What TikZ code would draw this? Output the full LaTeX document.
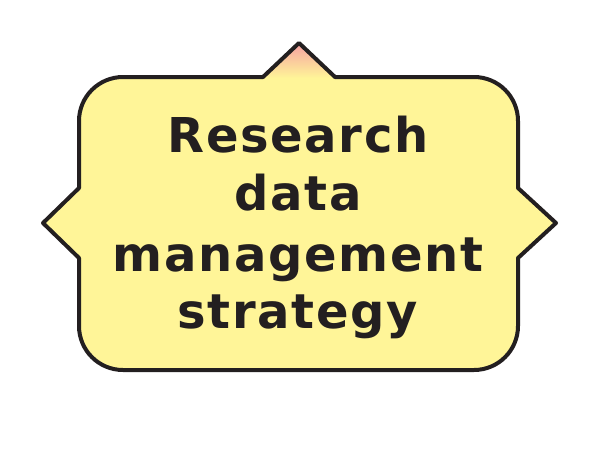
\documentclass[tikz,border=0pt]{standalone}
\usepackage{fontspec}
\newfontfamily\labelfont[LetterSpace=3.5]{DejaVu Sans}
\definecolor{boxfill}{RGB}{255,245,152}
\definecolor{tipfill}{RGB}{246,160,162}
\definecolor{ink}{RGB}{35,31,32}
\tikzset{
  outline/.style={draw=ink, line width=4pt, line join=round},
  txt/.style={anchor=base, inner sep=0pt, text=ink, font=\labelfont\bfseries\fontsize{48}{59}\selectfont}
}
\begin{document}
\begin{tikzpicture}[x=1pt,y=-1pt]
\useasboundingbox (0,0) rectangle (600,450);
\def\shapepath{(123,77) -- (263,77) -- (299,43) -- (335,77) -- (474,77)
  arc[start angle=90,end angle=0,radius=44pt] -- (518,188) -- (556,223) -- (518,258) -- (518,326)
  arc[start angle=0,end angle=-90,radius=44pt] -- (123,370)
  arc[start angle=-90,end angle=-180,radius=44pt] -- (79,258) -- (43,223) -- (79,188) -- (79,121)
  arc[start angle=180,end angle=90,radius=44pt] -- cycle}
\fill[boxfill] \shapepath;
\shade[top color=tipfill, bottom color=boxfill] (263,78) -- (299,43) -- (335,78) -- cycle;
\draw[outline] \shapepath;
\node[txt] (l1) at (298,152) {Research};
\node[txt] (l2) at (298,210) {data};
\node[txt] (l3) at (298,271) {management};
\node[txt] (l4) at (298,328) {strategy};
\end{tikzpicture}
\end{document}
